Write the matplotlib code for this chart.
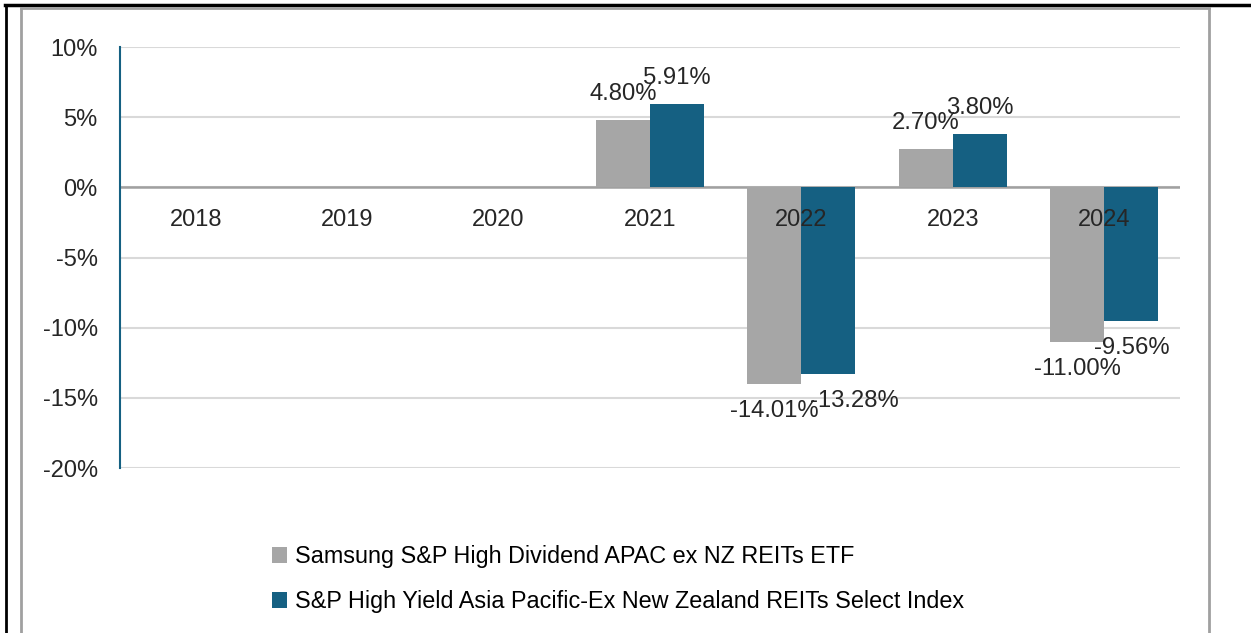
import matplotlib.pyplot as plt
from matplotlib.lines import Line2D
import numpy as np

plt.rcParams['font.family'] = ['Liberation Sans', 'DejaVu Sans']

years = ["2018", "2019", "2020", "2021", "2022", "2023", "2024"]
etf = [None, None, None, 4.80, -14.01, 2.70, -11.00]
index = [None, None, None, 5.91, -13.28, 3.80, -9.56]
series_names = ["Samsung S&P High Dividend APAC ex NZ REITs ETF",
                "S&P High Yield Asia Pacific-Ex New Zealand REITs Select Index"]

gray = "#a6a6a6"
teal = "#156082"
txt = "#262626"

fig = plt.figure(figsize=(12.51, 6.33), dpi=100)
ax = fig.add_axes([120 / 1251, 1 - 468 / 633, 1060 / 1251, 421 / 633])

x = np.arange(len(years))
w = 0.357
for vals, off, col, name in [(etf, -w / 2, gray, series_names[0]),
                             (index, w / 2, teal, series_names[1])]:
    xs = [xi + off for xi, v in zip(x, vals) if v is not None]
    vs = [v for v in vals if v is not None]
    ax.bar(xs, vs, width=w, color=col, label=name, zorder=3)
    for xi, v in zip(xs, vs):
        dx = 26 if v == -13.28 else 0
        dy = 26 if v > 0 else -27
        ax.annotate(f"{v:.2f}%", (xi, v), xytext=(dx, dy), textcoords="offset pixels",
                    ha="center", va="center", fontsize=17.2, color=txt, zorder=4)

ax.set_xlim(-0.5, len(years) - 0.5)
ax.set_ylim(-20, 10)
ax.set_yticks(range(-20, 11, 5))
ax.set_yticklabels([f"{t}%" for t in range(-20, 11, 5)], fontsize=17, color=txt)
ax.tick_params(axis="y", length=0, pad=16)
ax.set_xticks([])
ax.grid(axis="y", color="#d9d9d9", linewidth=1.5, zorder=0)
ax.axhline(0, color="#a0a0a0", linewidth=1.8, zorder=2)
for s in ["top", "right", "bottom"]:
    ax.spines[s].set_visible(False)
ax.spines["left"].set_color(teal)
ax.spines["left"].set_linewidth(1.5)

for xi, y in zip(x, years):
    ax.annotate(y, (xi, 0), xytext=(0, -33), textcoords="offset pixels",
                ha="center", va="center", fontsize=17, color=txt)

ax.legend(loc="center left", bbox_to_anchor=(272 / 1251, 1 - 579 / 633),
          bbox_transform=fig.transFigure, frameon=False, fontsize=16.8,
          handlelength=0.65, handleheight=0.65, handletextpad=0.35, labelspacing=0.95,
          borderpad=0, borderaxespad=0)

# frame lines of the screenshot
W, H = 1251, 633
def fline(xs, ys, c, lw):
    fig.add_artist(Line2D([p / W for p in xs], [1 - p / H for p in ys],
                          color=c, linewidth=lw, transform=fig.transFigure))
fline([6, 6], [5, 633], "black", 2)
fline([5, 1251], [5, 5], "black", 2.5)
fline([21, 21], [8, 633], "#a0a0a0", 2)
fline([21, 1209], [8, 8], "#a0a0a0", 2)
fline([1209, 1209], [8, 633], "#a0a0a0", 2)

fig.savefig("out.png", dpi=100)
